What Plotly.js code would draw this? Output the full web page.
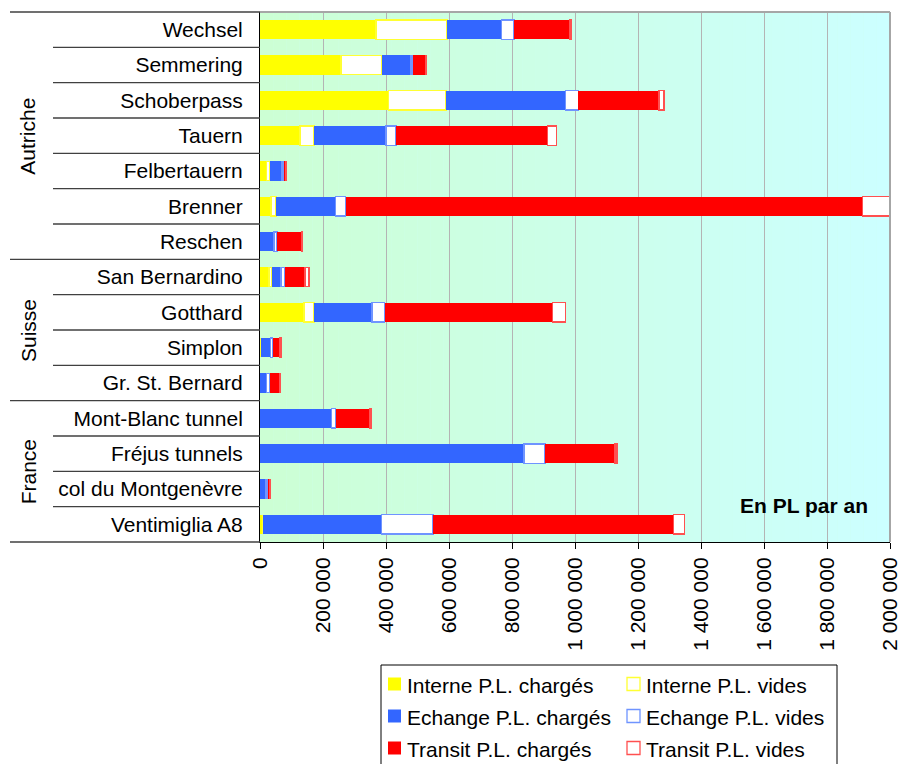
<!DOCTYPE html>
<html><head><meta charset="utf-8">
<script src="https://cdn.plot.ly/plotly-3.0.1.min.js"></script>
<style>html,body{margin:0;padding:0;background:#fff}</style>
</head><body><div id="chart" style="width:899px;height:764px"></div>
<script>
const categories = ['Wechsel','Semmering','Schoberpass','Tauern','Felbertauern','Brenner','Reschen','San Bernardino','Gotthard','Simplon','Gr. St. Bernard','Mont-Blanc tunnel','Fréjus tunnels','col du Montgenèvre','Ventimiglia A8'];
const groups = ['Autriche','Suisse','France'];
const groupSizes = [7, 4, 4];

const interneCharges = [368000, 257000, 408000, 127000, 21000, 35000, 1000, 29000, 139000, 2000, 0, 0, 0, 0, 8000];
const interneVides   = [225000, 129000, 182000, 45000, 10000, 15000, 0, 8000, 32000, 0, 0, 0, 0, 0, 0];
const echangeCharges = [174000, 93000, 380000, 228000, 39000, 189000, 43000, 30000, 184000, 31000, 21000, 227000, 838000, 19000, 378000];
const echangeVides   = [39000, 6000, 41000, 32000, 5000, 33000, 10000, 11000, 41000, 7000, 10000, 13000, 67000, 7000, 163000];
const transitCharges = [178000, 42000, 256000, 480000, 7000, 1640000, 77000, 65000, 532000, 24000, 31000, 107000, 222000, 5000, 763000];
const transitVides   = [5000, 2000, 16000, 30000, 1000, 88000, 4000, 12000, 42000, 2000, 2000, 6000, 6000, 1000, 35000];

const seriesNames = ['Interne P.L. chargés','Interne P.L. vides','Echange P.L. chargés','Echange P.L. vides','Transit P.L. chargés','Transit P.L. vides'];
const xTickVals = [0,200000,400000,600000,800000,1000000,1200000,1400000,1600000,1800000,2000000];
const xTickText = ['0','200 000','400 000','600 000','800 000','1 000 000','1 200 000','1 400 000','1 600 000','1 800 000','2 000 000'];
const unitNote = 'En PL par an';

const FONT = 'Liberation Sans, Arial, sans-serif';
const seriesValues = [interneCharges, interneVides, echangeCharges, echangeVides, transitCharges, transitVides];
const fills = ['#FFFF00','#FFFFFF','#3366FF','#FFFFFF','#FF0000','#FFFFFF'];
const lines = ['rgba(0,0,0,0)','#FFFF33','rgba(0,0,0,0)','#6F94FF','rgba(0,0,0,0)','#FF5050'];
const lineW = [0,1.5,0,1.5,0,1.5];

const data = seriesValues.map((vals, i) => ({
  type: 'bar', orientation: 'h', name: seriesNames[i],
  x: vals, y: categories,
  marker: {color: fills[i], line: {color: lines[i], width: lineW[i]}},
  hoverinfo: 'x+y+name', showlegend: false
}));

// pixel -> paper helpers (plot area: x 260..890, y 12..542)
const PL = 260, PW = 630, PB = 542, PH = 530;
const px = v => (v - PL) / PW;
const py = v => (PB - v) / PH;

const shapes = [];
// gradient background bands
const N = 48;
for (let i = 0; i < N; i++) {
  const t = (i + 0.5) / N;
  const b = Math.round(212 + (255 - 212) * t);
  shapes.push({type:'rect', xref:'x domain', yref:'y domain', x0:i/N, x1:(i+1)/N, y0:0, y1:1,
    fillcolor:'rgb(204,255,' + b + ')', line:{width:0}, layer:'below'});
}
// border top/right
shapes.push({type:'line', xref:'paper', yref:'paper', x0:0, x1:1, y0:1, y1:1, line:{color:'#A6A6A6', width:2}});
shapes.push({type:'line', xref:'paper', yref:'paper', x0:1, x1:1, y0:0, y1:1, line:{color:'#A6A6A6', width:2}});
// table lines
const n = categories.length;
const groupStarts = [];
let acc = 0;
groupSizes.forEach(s => { groupStarts.push(acc); acc += s; });
groupStarts.push(n);
for (let k = 0; k <= n; k++) {
  const isGroup = groupStarts.indexOf(k) >= 0;
  shapes.push({type:'line', xref:'paper', yref:'paper', x0: isGroup ? px(10) : px(53), x1:0,
    y0: 1 - k/n, y1: 1 - k/n, line:{color:'#404040', width:1.3}});
}

const annotations = groups.map((g, i) => ({
  text: g, xref:'paper', yref:'paper', x:px(28), y: 1 - (groupStarts[i] + groupSizes[i]/2)/n,
  textangle:-90, showarrow:false, xanchor:'center', yanchor:'middle',
  font:{family:FONT, size:21, color:'#000'}
}));
annotations.push({text:'<b>'+unitNote+'</b>', xref:'paper', yref:'paper', x:px(804), y:py(505),
  showarrow:false, xanchor:'center', yanchor:'middle', font:{family:FONT, size:21, color:'#000'}});

// custom legend (box cut by bottom edge as in the reference)
shapes.push({type:'rect', xref:'paper', yref:'paper', x0:px(381), x1:px(837), y0:py(665), y1:py(780),
  fillcolor:'#FFFFFF', line:{color:'#000', width:1}});
const legCols = [388, 627];
const legRows = [684, 716, 748];
seriesNames.forEach((name, i) => {
  const col = i % 2, row = Math.floor(i / 2);
  const sx = legCols[col], sy = legRows[row];
  const filled = col === 0;
  shapes.push({type:'rect', xref:'paper', yref:'paper', x0:px(sx), x1:px(sx + 13), y0:py(sy - 6.5), y1:py(sy + 6.5),
    fillcolor: fills[i], line:{color: filled ? fills[i] : lines[i], width: filled ? 0 : 1.3}});
  annotations.push({text:name, xref:'paper', yref:'paper', x:px(sx + 17), y:py(sy + 1), showarrow:false,
    xanchor:'left', yanchor:'middle', font:{family:FONT, size:21, color:'#000'}});
});

const layout = {
  width: 899, height: 764,
  margin: {l:260, r:9, t:12, b:222},
  barmode: 'stack', bargap: 0.45,
  paper_bgcolor: '#FFFFFF', plot_bgcolor: '#CCFFEE',
  font: {family: FONT, size: 21, color: '#000'},
  showlegend: false,
  xaxis: {range:[0,2000000], tickvals:xTickVals, ticktext:xTickText, tickangle:-90,
    showgrid:true, gridcolor:'#B4B4B4', gridwidth:1, zeroline:false,
    showline:true, linecolor:'#000', linewidth:1, ticks:'outside', ticklen:6, tickcolor:'#000',
    ticklabeloverflow:'allow',
    tickfont:{family:FONT, size:21, color:'#000'}, fixedrange:true},
  yaxis: {type:'category', autorange:'reversed', showgrid:false, zeroline:false,
    showline:true, linecolor:'#000', linewidth:1, ticks:'', ticklabelstandoff:12,
    tickfont:{family:FONT, size:21, color:'#000'}, fixedrange:true},
  shapes: shapes,
  annotations: annotations
};

Plotly.newPlot('chart', data, layout, {displayModeBar:false, staticPlot:true});
</script>
</body></html>
